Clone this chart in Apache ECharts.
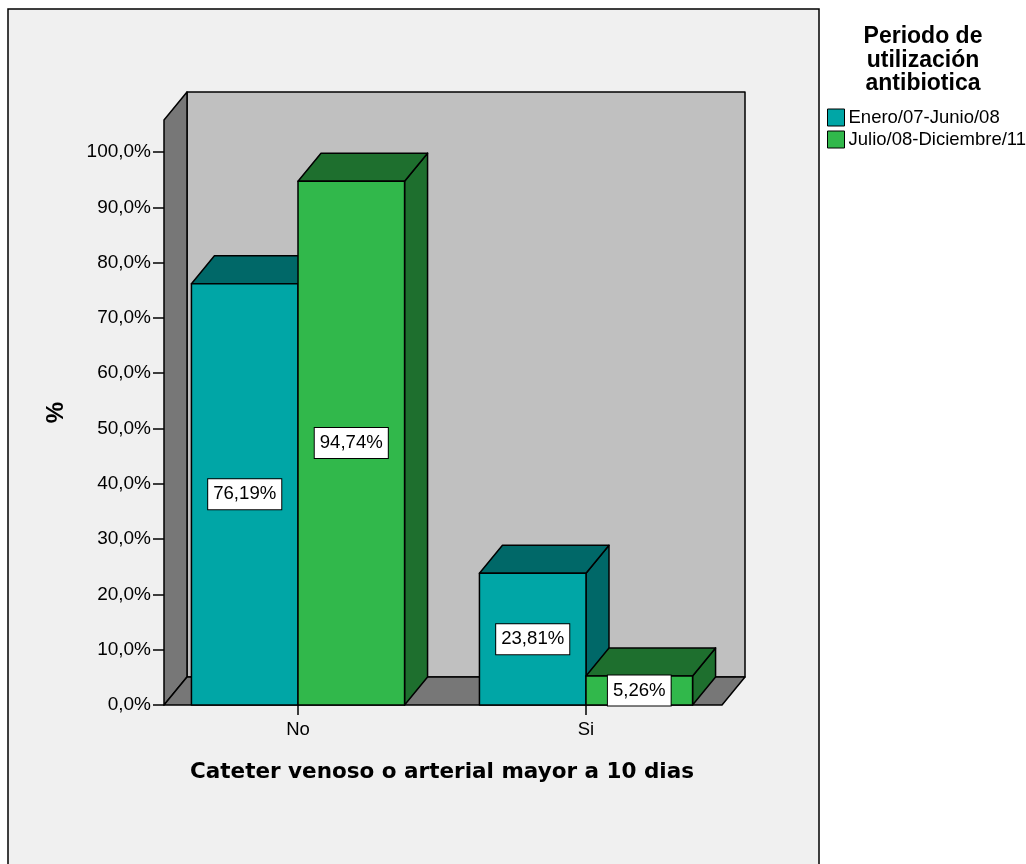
<!DOCTYPE html>
<html>
<head>
<meta charset="utf-8">
<script src="https://cdn.jsdelivr.net/npm/echarts@6/dist/echarts.min.js"></script>
<style>html,body{margin:0;padding:0;background:#fff}#c{width:1026px;height:864px}</style>
</head>
<body>
<div id="c"></div>
<script>
const categories = ['No', 'Si'];
const seriesNames = ['Enero/07-Junio/08', 'Julio/08-Diciembre/11'];
const eneroValues = [76.19, 23.81];
const julioValues = [94.74, 5.26];
const yTickValues = [0, 10, 20, 30, 40, 50, 60, 70, 80, 90, 100];
const yMax = 105.8;
const xTitle = 'Cateter venoso o arterial mayor a 10 dias';
const yTitle = '%';
const legendTitle = 'Periodo de\nutilización\nantibiotica';

const FONT = '"Liberation Sans", Arial, sans-serif';
const WIDE_FONT = '"DejaVu Sans", Verdana, sans-serif';
const DX = 23, DY = -28;

function fmtPct(v, d) { return v.toFixed(d).replace('.', ',') + '%'; }

function barRenderer(sideIdx, frontColor, darkColor) {
  return function (params, api) {
    const cat = api.value(0), val = api.value(1);
    const base = api.coord([cat, 0]);
    const top = api.coord([cat, val]);
    const bw = api.size([1, 0])[0];
    const w = bw * 0.37;
    const x0 = sideIdx === 0 ? base[0] - w : base[0];
    const x1 = x0 + w;
    const y0 = base[1], y1 = top[1];
    const ls = { stroke: '#000', lineWidth: 1.5, lineJoin: 'round' };
    return {
      type: 'group',
      children: [
        { type: 'polygon', shape: { points: [[x1, y1], [x1 + DX, y1 + DY], [x1 + DX, y0 + DY], [x1, y0]] }, style: Object.assign({ fill: darkColor }, ls) },
        { type: 'polygon', shape: { points: [[x0, y1], [x0 + DX, y1 + DY], [x1 + DX, y1 + DY], [x1, y1]] }, style: Object.assign({ fill: darkColor }, ls) },
        { type: 'rect', shape: { x: x0, y: y1, width: w, height: y0 - y1 }, style: Object.assign({ fill: frontColor }, ls) },
        { type: 'text', x: (x0 + x1) / 2, y: (y0 + y1) / 2, z2: 10,
          style: { text: fmtPct(val, 2), fill: '#000', font: '18.6px ' + FONT, align: 'center', verticalAlign: 'middle',
                   backgroundColor: '#fff', borderColor: '#000', borderWidth: 1, padding: [6, 5, 5, 5] } }
      ]
    };
  };
}

function wallRenderer(params, api) {
  const c0 = api.coord([0, 0]);
  const c1 = api.coord([1, 0]);
  const bw = api.size([1, 0])[0];
  const yTop = api.coord([0, yMax])[1];
  const yBase = c0[1];
  const lx = c0[0] - bw / 2 + 10;
  const rx = c1[0] + bw / 2 - 8;
  const ls = { stroke: '#000', lineWidth: 1.5, lineJoin: 'round' };
  return {
    type: 'group',
    children: [
      { type: 'rect', shape: { x: lx + DX, y: yTop + DY, width: rx - lx, height: yBase - yTop }, style: Object.assign({ fill: '#c0c0c0' }, ls) },
      { type: 'polygon', shape: { points: [[lx, yTop], [lx + DX, yTop + DY], [lx + DX, yBase + DY], [lx, yBase]] }, style: Object.assign({ fill: '#777777' }, ls) },
      { type: 'polygon', shape: { points: [[lx, yBase], [lx + DX, yBase + DY], [rx + DX, yBase + DY], [rx, yBase]] }, style: Object.assign({ fill: '#777777' }, ls) }
    ]
  };
}

const chart = echarts.init(document.getElementById('c'), null, { renderer: 'canvas' });
chart.setOption({
  backgroundColor: '#ffffff',
  animation: false,
  textStyle: { fontFamily: FONT },
  graphic: [
    { type: 'rect', z: -10, shape: { x: 8, y: 9, width: 811, height: 870 }, style: { fill: '#f0f0f0', stroke: '#000', lineWidth: 1.5 } },
    { type: 'text', x: 923, y: 25, style: { text: legendTitle, font: 'bold 23px ' + FONT, fill: '#000', align: 'center', lineHeight: 23.5 } }
  ],
  legend: {
    data: seriesNames,
    orient: 'vertical',
    left: 822, top: 103,
    itemWidth: 17, itemHeight: 17, itemGap: 3,
    icon: 'rect',
    itemStyle: { borderColor: '#000', borderWidth: 1 },
    textStyle: { fontSize: 18.5, color: '#000', fontFamily: FONT, padding: [0, 0, 0, -1] }
  },
  grid: { left: 154, width: 576, top: 120, bottom: 159, containLabel: false },
  xAxis: {
    type: 'category',
    data: categories,
    axisLine: { show: false },
    axisTick: { show: true, alignWithLabel: true, length: 10, lineStyle: { color: '#000', width: 1.5 } },
    axisLabel: { fontSize: 18.5, color: '#000', margin: 15, fontFamily: FONT },
    splitLine: { show: false },
    name: xTitle, nameLocation: 'middle', nameGap: 56,
    nameTextStyle: { fontSize: 21.5, fontWeight: 'bold', color: '#000', fontFamily: WIDE_FONT }
  },
  yAxis: {
    type: 'value', min: 0, max: yMax, interval: 10, offset: -10,
    axisLine: { show: false },
    axisTick: { show: true, length: 11, customValues: yTickValues, lineStyle: { color: '#000', width: 1.5 } },
    axisLabel: { customValues: yTickValues, fontSize: 19, color: '#000', margin: 13, fontFamily: FONT, formatter: function (v) { return fmtPct(v, 1); } },
    splitLine: { show: false },
    name: yTitle, nameLocation: 'middle', nameGap: 96, nameRotate: 90,
    nameTextStyle: { fontSize: 24, fontWeight: 'bold', color: '#000', fontFamily: FONT }
  },
  series: [
    { type: 'custom', name: 'walls', silent: true, z: 1, renderItem: wallRenderer, data: [[0, 0]] },
    { type: 'custom', name: seriesNames[0], z: 2, renderItem: barRenderer(0, '#00a6a6', '#006868'),
      itemStyle: { color: '#00a6a6' }, data: eneroValues.map((v, i) => [i, v]) },
    { type: 'custom', name: seriesNames[1], z: 3, renderItem: barRenderer(1, '#31b84b', '#1e6f2e'),
      itemStyle: { color: '#31b84b' }, data: julioValues.map((v, i) => [i, v]) }
  ]
});
</script>
</body>
</html>
